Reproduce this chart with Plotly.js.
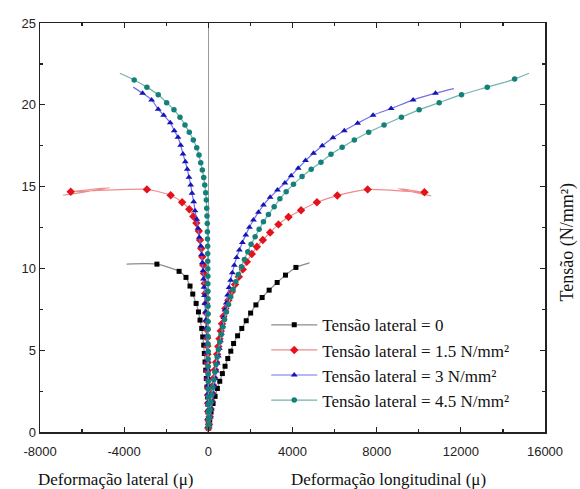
<!DOCTYPE html>
<html><head><meta charset="utf-8">
<script src="https://cdn.plot.ly/plotly-3.0.1.min.js"></script>
<style>html,body{margin:0;padding:0;background:#fff;}#chart{width:580px;height:489px;}</style>
</head><body><div id="chart"></div>
<script>
// Series names
const names = ["Tensão lateral = 0", "Tensão lateral = 1.5 N/mm²", "Tensão lateral = 3 N/mm²", "Tensão lateral = 4.5 N/mm²"];

// Tensão lateral = 0 : lateral branch (strain, stress) and longitudinal branch
const s0LatX = [-3, -8, -15, -22, -35, -62, -95, -124, -157, -190, -219, -267, -314, -395, -470, -580, -740, -871, -1062, -1390, -2443];
const s0LatY = [0.25, 0.72, 1.22, 1.7, 2.14, 2.75, 3.27, 3.78, 4.28, 4.8, 5.31, 5.81, 6.33, 6.84, 7.34, 7.86, 8.43, 8.92, 9.45, 9.82, 10.26];
const s0LonX = [20, 67, 129, 224, 319, 429, 543, 667, 795, 924, 1067, 1200, 1390, 1590, 1800, 2010, 2260, 2557, 2890, 3271, 3667, 4162];
const s0LonY = [0.25, 0.72, 1.22, 1.74, 2.18, 2.66, 3.1, 3.57, 4.02, 4.49, 4.94, 5.41, 5.88, 6.33, 6.8, 7.27, 7.77, 8.22, 8.67, 9.14, 9.59, 10.06];
const s0FitLat = [-3886, 10.26];
const s0FitLon = [4810, 10.34];

// Tensão lateral = 1.5 N/mm²
const s1LatX = [-1, -3, -6, -10, -15, -20, -25, -30, -36, -42, -48, -55, -62, -70, -76, -110, -143, -171, -205, -238, -286, -333, -395, -450, -570, -714, -905, -1245, -1790, -2919, -6538];
const s1LatY = [0.25, 0.75, 1.25, 1.75, 2.25, 2.75, 3.25, 3.75, 4.25, 4.75, 5.25, 5.75, 6.25, 6.75, 7.25, 7.86, 8.47, 9.08, 9.69, 10.2, 10.71, 11.22, 11.73, 12.29, 12.77, 13.18, 13.62, 14.04, 14.47, 14.83, 14.69];
const s1LonX = [30, 65, 105, 145, 185, 230, 275, 320, 370, 420, 475, 530, 590, 650, 720, 810, 952, 1114, 1271, 1448, 1638, 1829, 2067, 2305, 2590, 2938, 3333, 3810, 4407, 5162, 6130, 7571, 10271];
const s1LonY = [0.47, 0.95, 1.42, 1.9, 2.37, 2.85, 3.32, 3.8, 4.27, 4.75, 5.22, 5.7, 6.17, 6.62, 7.08, 7.55, 8.06, 8.57, 9.02, 9.49, 9.94, 10.4, 10.88, 11.32, 11.73, 12.2, 12.69, 13.14, 13.56, 14.04, 14.45, 14.83, 14.65];
const s1FitLat = [[-6905, -4676], [14.47, 14.93]];
const s1FitLon = [[9000, 10590], [14.88, 14.43]];

// Tensão lateral = 3 N/mm²
const s2LatX = [-2, -5, -9, -14, -20, -27, -35, -44, -54, -65, -77, -90, -105, -122, -140, -160, -180, -205, -230, -255, -285, -320, -362, -429, -490, -552, -633, -695, -776, -838, -919, -1000, -1095, -1205, -1314, -1443, -1619, -1810, -2124, -2381, -2695, -3124];
const s2LatY = [0.35, 0.85, 1.35, 1.85, 2.35, 2.85, 3.35, 3.85, 4.35, 4.85, 5.35, 5.85, 6.35, 6.85, 7.35, 7.85, 8.35, 8.85, 9.35, 9.85, 10.35, 10.85, 11.37, 11.9, 12.45, 13.0, 13.53, 14.08, 14.59, 15.1, 15.57, 16.06, 16.52, 17.0, 17.53, 18.02, 18.42, 18.91, 19.36, 19.73, 20.3, 20.71];
const s2LonX = [45, 100, 145, 190, 235, 285, 330, 375, 425, 475, 525, 575, 625, 680, 735, 790, 850, 915, 985, 1060, 1140, 1235, 1345, 1476, 1619, 1781, 1952, 2143, 2381, 2619, 2938, 3286, 3638, 3938, 4271, 4619, 5000, 5414, 5924, 6462, 7095, 7829, 8686, 9733, 10795];
const s2LonY = [0.45, 0.92, 1.4, 1.87, 2.33, 2.8, 3.27, 3.73, 4.2, 4.65, 5.1, 5.57, 6.03, 6.5, 7.0, 7.45, 7.89, 8.37, 8.84, 9.28, 9.73, 10.2, 10.67, 11.12, 11.59, 12.04, 12.51, 12.96, 13.43, 13.87, 14.35, 14.79, 15.22, 15.67, 16.12, 16.59, 17.04, 17.5, 17.99, 18.42, 18.87, 19.36, 19.77, 20.3, 20.71];
const s2FitLat = [-3571, 21.08];
const s2FitLon = [11667, 20.99];

// Tensão lateral = 4.5 N/mm²
const s3LatX = [0, -1, -1, -2, -2, -3, -4, -5, -6, -7, -8, -9, -10, -12, -13, -14, -16, -18, -20, -22, -24, -26, -28, -30, -33, -38, -44, -50, -62, -76, -95, -124, -171, -219, -286, -362, -443, -552, -714, -905, -1110, -1348, -1633, -1981, -2381, -2919, -3524];
const s3LatY = [0.32, 0.78, 1.24, 1.7, 2.16, 2.62, 3.08, 3.54, 4.0, 4.46, 4.92, 5.38, 5.84, 6.3, 6.76, 7.22, 7.68, 8.14, 8.6, 9.06, 9.52, 9.98, 10.44, 10.9, 11.35, 11.8, 12.24, 12.75, 13.21, 13.67, 14.18, 14.63, 15.1, 15.55, 16.02, 16.46, 16.93, 17.38, 17.85, 18.32, 18.77, 19.24, 19.69, 20.13, 20.61, 21.08, 21.52];
const s3LonX = [20, 50, 85, 125, 165, 210, 260, 310, 365, 420, 480, 545, 615, 690, 770, 860, 960, 1067, 1176, 1305, 1429, 1571, 1714, 1876, 2033, 2224, 2414, 2619, 2857, 3129, 3400, 3700, 4048, 4455, 4890, 5352, 5829, 6360, 6938, 7619, 8352, 9176, 10019, 10971, 12033, 13257, 14557];
const s3LonY = [0.44, 0.9, 1.36, 1.82, 2.28, 2.74, 3.2, 3.66, 4.12, 4.58, 5.04, 5.5, 5.96, 6.42, 6.88, 7.34, 7.8, 8.26, 8.71, 9.18, 9.63, 10.1, 10.55, 11.02, 11.47, 11.93, 12.39, 12.85, 13.3, 13.77, 14.25, 14.69, 15.14, 15.61, 16.06, 16.49, 16.98, 17.4, 17.85, 18.32, 18.77, 19.24, 19.69, 20.13, 20.62, 21.08, 21.57];
const s3FitLat = [-4205, 21.93];
const s3FitLon = [15238, 21.93];

const xTicks = [-8000, -4000, 0, 4000, 8000, 12000, 16000];
const yTicks = [0, 5, 10, 15, 20, 25];

const markerColors = ["#000000", "#e3121b", "#1414b8", "#14807a"];
const lineColors = ["#8c8c8c", "#f08c8c", "#7070e6", "#6fb3ad"];
const symbols = ["square", "diamond", "triangle-up", "circle"];
const msizes = [5, 6.5, 6, 5.5];

function fitPts(f) { // normalise to [[xs],[ys]]
  return Array.isArray(f[0]) ? f : [[f[0]], [f[1]]];
}
const series = [
  [s0LatX, s0LatY, s0LonX, s0LonY, s0FitLat, s0FitLon],
  [s1LatX, s1LatY, s1LonX, s1LonY, s1FitLat, s1FitLon],
  [s2LatX, s2LatY, s2LonX, s2LonY, s2FitLat, s2FitLon],
  [s3LatX, s3LatY, s3LonX, s3LonY, s3FitLat, s3FitLon]
];

const traces = [];
series.forEach((s, i) => {
  const [lx, ly, gx, gy, fl, fg] = s;
  const FL = fitPts(fl), FG = fitPts(fg);
  const fx = [...FL[0], ...lx.slice().reverse(), 0, ...gx, ...FG[0]];
  const fy = [...FL[1], ...ly.slice().reverse(), 0, ...gy, ...FG[1]];
  traces.push({x: fx, y: fy, type: 'scatter', mode: 'lines', showlegend: false,
    line: {color: lineColors[i], width: 1.2, shape: 'spline', smoothing: 0.6}, hoverinfo: 'skip'});
  const mx = [...lx.slice().reverse(), ...gx];
  const my = [...ly.slice().reverse(), ...gy];
  traces.push({x: mx, y: my, type: 'scatter', mode: 'markers', name: names[i], showlegend: false,
    marker: {color: markerColors[i], symbol: symbols[i], size: msizes[i], line: {width: 0}}});
  traces.push({x: [null], y: [null], type: 'scatter', mode: 'lines+markers', name: names[i],
    line: {color: lineColors[i], width: 1.2},
    marker: {color: markerColors[i], symbol: symbols[i], size: msizes[i], line: {width: 0}}});
});

const serif = 'Liberation Serif';
const sans = 'Liberation Sans';
const layout = {
  width: 580, height: 489,
  margin: {l: 40, r: 35, t: 23, b: 57},
  paper_bgcolor: '#fff', plot_bgcolor: '#fff',
  showlegend: true,
  legend: {x: 0.448, y: 0.305, xanchor: 'left', yanchor: 'top', bgcolor: 'rgba(0,0,0,0)',
    font: {family: serif, size: 17, color: '#111'}, tracegroupgap: 0, itemwidth: 46},
  xaxis: {range: [-8000, 16000], tickvals: xTicks, ticktext: xTicks.map(String),
    ticks: 'inside', ticklen: 5, tickwidth: 1.2, tickcolor: '#222', mirror: 'ticks',
    showline: true, linecolor: '#222', linewidth: 1.5, showgrid: false,
    zeroline: true, zerolinecolor: '#999', zerolinewidth: 1, ticklabelstandoff: 7,
    minor: {tickvals: [-6000, -2000, 2000, 6000, 10000, 14000], ticks: 'inside', ticklen: 3, tickcolor: '#222', showgrid: false},
    tickfont: {family: sans, size: 13, color: '#222'}},
  yaxis: {range: [0, 25], tickvals: yTicks, ticktext: yTicks.map(String),
    ticks: 'inside', ticklen: 5, tickwidth: 1.2, tickcolor: '#222', mirror: 'ticks',
    showline: true, linecolor: '#222', linewidth: 1.5, showgrid: false, zeroline: false,
    minor: {tickvals: [2.5, 7.5, 12.5, 17.5, 22.5], ticks: 'inside', ticklen: 3, tickcolor: '#222', showgrid: false},
    tickfont: {family: sans, size: 13, color: '#222'}},
  annotations: [
    {text: 'Deformação lateral (μ)', xref: 'paper', yref: 'paper', x: 0.15, y: -0.115, xanchor: 'center', yanchor: 'middle', showarrow: false, font: {family: serif, size: 17, color: '#111'}},
    {text: 'Deformação longitudinal (μ)', xref: 'paper', yref: 'paper', x: 0.69, y: -0.115, xanchor: 'center', yanchor: 'middle', showarrow: false, font: {family: serif, size: 17, color: '#111'}},
    {text: 'Tensão (N/mm²)', xref: 'paper', yref: 'paper', x: 1.045, y: 0.465, xanchor: 'center', yanchor: 'middle', textangle: -90, showarrow: false, font: {family: serif, size: 18, color: '#111'}}
  ]
};
Plotly.newPlot('chart', traces, layout, {displayModeBar: false, staticPlot: true});
</script>
</body></html>
